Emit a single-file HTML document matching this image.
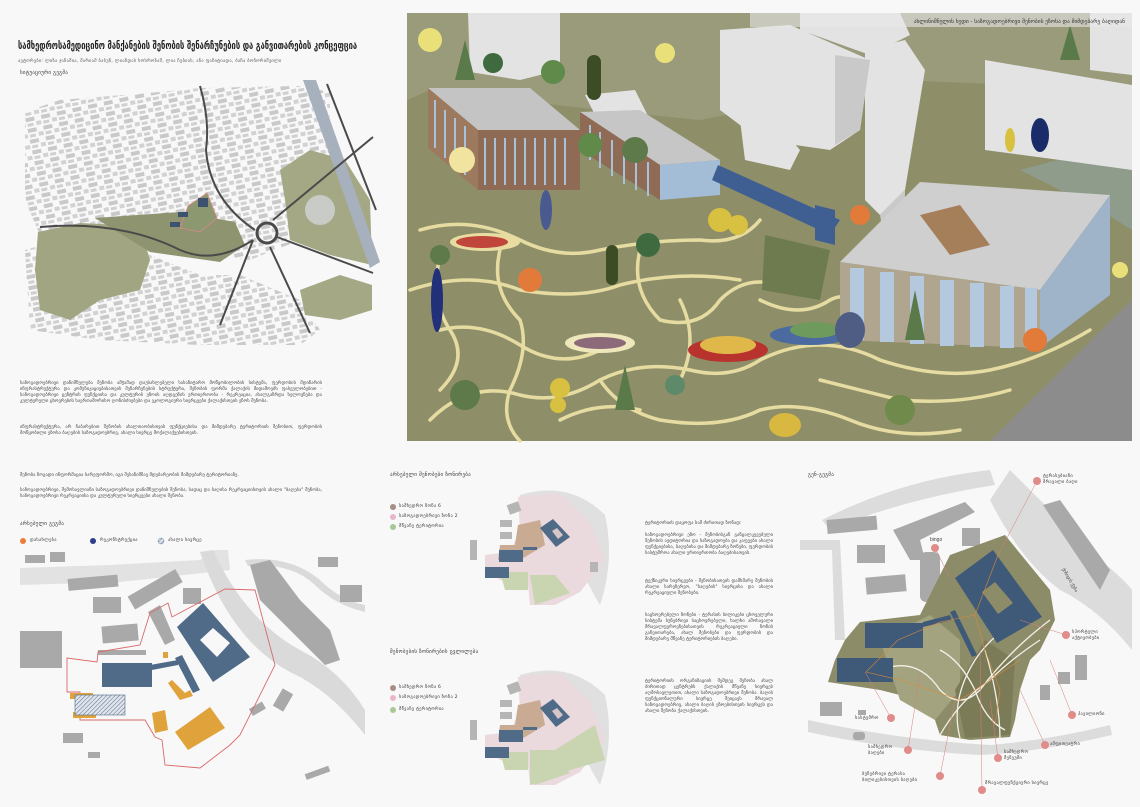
<!DOCTYPE html>
<html><head><meta charset="utf-8"><style>
html,body{margin:0;padding:0;background:#f8f8f8;}
body{width:1140px;height:807px;position:relative;overflow:hidden;font-family:"Liberation Sans","DejaVu Sans",sans-serif;}
.t{position:absolute;color:#444;font-size:4.6px;line-height:6px;text-align:justify;font-family:"DejaVu Sans",sans-serif;}
.h{position:absolute;color:#333;font-size:6px;font-family:"DejaVu Sans",sans-serif;letter-spacing:.3px;white-space:nowrap;}
svg{position:absolute;left:0;top:0;}
</style></head><body>
<svg width="1140" height="807" viewBox="0 0 1140 807">
<defs>
<pattern id="city" width="16" height="11" patternUnits="userSpaceOnUse" patternTransform="rotate(-12)">
<rect x="0" y="0" width="9" height="4" fill="#c9c9c9"/><rect x="10" y="5" width="5" height="4" fill="#d2d2d2"/><rect x="1" y="6" width="6" height="3" fill="#d0d0d0"/>
</pattern>
<pattern id="hatch" width="3" height="3" patternUnits="userSpaceOnUse" patternTransform="rotate(45)">
<rect width="3" height="3" fill="#dfe4ea"/><line x1="0" y1="0" x2="0" y2="3" stroke="#5a7090" stroke-width="1"/>
</pattern>
</defs>

<!-- ===== context map top-left ===== -->
<polygon points="25,112 60,100 160,92 200,88 300,86 330,92 330,210 300,240 250,260 200,255 140,245 40,235 25,200" fill="url(#city)"/>
<polygon points="25,250 60,240 150,255 200,275 240,275 300,300 320,330 300,345 200,345 100,340 30,330" fill="url(#city)"/>
<polygon points="38,232 80,223 140,226 150,260 140,290 100,300 70,320 40,310 35,270" fill="#a2a582"/>
<polygon points="95,218 180,212 235,222 245,245 220,262 150,252" fill="#8f9470"/>
<polygon points="280,170 310,150 345,160 370,200 372,265 330,255 290,240 285,200" fill="#a4a884"/>
<polygon points="300,290 340,275 372,285 372,310 340,320 305,315" fill="#a4a884"/>
<circle cx="320" cy="210" r="15" fill="#c9cbc6"/>
<polygon points="303,80 316,80 380,262 370,268" fill="#a7b0bd"/>
<g fill="none" stroke="#4a4a4a" stroke-width="2">
<path d="M40,227 Q120,220 180,250 Q215,265 253,240"/>
<path d="M200,86 Q210,120 206,150 Q210,200 255,230"/>
<path d="M273,220 L373,137"/>
<path d="M253,240 L220,325"/>
<path d="M270,247 L310,333"/>
<path d="M277,237 L373,273"/>
<path d="M327,84 L376,210"/>
</g>
<circle cx="267" cy="233" r="10" fill="none" stroke="#4a4a4a" stroke-width="3"/>
<polygon points="188,206 207,193 217,218 200,232 180,228" fill="#8b9870" stroke="#d88" stroke-width=".8"/>
<rect x="198" y="198" width="10" height="9" fill="#3d5270"/>
<rect x="178" y="212" width="10" height="5" fill="#3d5270"/>
<rect x="170" y="222" width="10" height="5" fill="#3d5270"/>

<!-- ===== big rendering ===== -->
<rect x="407" y="13" width="725" height="428" fill="#8e8f69"/>
<polygon points="407,13 1132,13 1132,90 900,80 700,120 600,110 430,90 407,100" fill="#9a9b7a"/>
<polygon points="990,441 1132,300 1132,441" fill="#8c8c8c"/>
<polygon points="1020,170 1132,140 1132,230 1100,210" fill="#8f9b8b"/>
<g fill="none" stroke="#e6dca2" stroke-width="3.5" stroke-linecap="round">
<path d="M420,230 Q470,215 520,240 Q560,260 600,250 Q650,240 700,240 Q740,245 760,220"/>
<path d="M410,290 Q470,270 520,290 Q580,300 620,285 Q680,270 740,280"/>
<path d="M430,420 Q470,380 520,395 Q560,405 600,380 Q640,360 690,370 Q730,380 760,360 Q820,330 880,360 Q940,380 990,370 Q1040,360 1090,330"/>
<path d="M440,330 Q480,320 520,345 Q560,370 600,350"/>
<path d="M500,250 Q490,290 520,320 Q530,350 510,390 Q500,420 520,441"/>
<path d="M640,250 Q630,290 660,320 Q700,330 720,300 Q750,270 790,290"/>
<path d="M600,380 Q620,410 660,420 Q720,430 760,410 Q800,400 850,420 Q900,441 960,430"/>
<path d="M760,300 Q800,320 830,300 Q850,290 860,310"/>
<path d="M440,255 Q430,300 450,330 Q470,360 440,390"/>
<path d="M560,420 Q600,400 640,410"/>
<path d="M680,300 Q700,340 680,380"/>
<path d="M820,380 Q860,390 900,400 Q960,405 1010,390"/>
</g>
<g fill="#e3e3e3">
<polygon points="468,13 560,13 560,70 520,80 470,72"/>
<polygon points="720,30 790,25 870,60 860,130 830,150 760,140 720,110"/>
<polygon points="800,13 900,13 910,35 870,55 800,30"/>
<polygon points="865,50 905,40 925,70 905,190 880,215 865,200"/>
<polygon points="985,60 1132,85 1132,170 1060,160 985,150"/>
<polygon points="1090,13 1132,13 1132,75 1090,70"/>
<polygon points="585,95 635,90 650,120 600,125"/>
<polygon points="740,120 770,115 800,150 790,170 745,160"/>
</g>
<g fill="#c9c9c9">
<polygon points="835,55 870,60 860,130 835,145"/>
<polygon points="880,215 905,190 905,230 885,245"/>
</g>
<polygon points="428,88 530,88 580,130 478,130" fill="#c4c4c4"/>
<polygon points="428,88 478,130 478,190 428,148" fill="#9d7a5e"/>
<polygon points="478,130 580,130 580,190 478,190" fill="#8f6b55"/>
<g stroke="#a9c2dc" stroke-width="2"><line x1="485" y1="138" x2="485" y2="185"/><line x1="495" y1="138" x2="495" y2="185"/><line x1="505" y1="138" x2="505" y2="185"/><line x1="515" y1="138" x2="515" y2="185"/><line x1="525" y1="138" x2="525" y2="185"/><line x1="535" y1="138" x2="535" y2="185"/><line x1="545" y1="138" x2="545" y2="185"/><line x1="555" y1="138" x2="555" y2="185"/><line x1="565" y1="138" x2="565" y2="185"/><line x1="435" y1="100" x2="435" y2="148"/><line x1="445" y1="110" x2="445" y2="158"/><line x1="455" y1="118" x2="455" y2="166"/><line x1="465" y1="126" x2="465" y2="175"/></g>
<polygon points="580,112 640,110 720,160 660,165" fill="#c6c6c6"/>
<polygon points="580,112 660,165 660,200 580,150" fill="#8f6b55"/>
<polygon points="660,165 720,160 720,195 660,200" fill="#a4bdd6"/>
<g stroke="#a9c2dc" stroke-width="2"><line x1="590" y1="125" x2="590" y2="160"/><line x1="600" y1="132" x2="600" y2="168"/><line x1="612" y1="140" x2="612" y2="176"/><line x1="624" y1="148" x2="624" y2="184"/><line x1="636" y1="156" x2="636" y2="190"/><line x1="648" y1="162" x2="648" y2="196"/></g>
<polygon points="718,165 840,220 830,235 712,180" fill="#3f5f92"/>
<polygon points="815,205 835,210 835,245 815,240" fill="#3f5f92"/>
<polygon points="840,262 920,182 1110,195 1040,290" fill="#cfcfcf"/>
<polygon points="920,215 960,205 990,245 950,255" fill="#a57e5a"/>
<polygon points="840,262 1040,290 1040,348 840,340" fill="#b0a58f"/>
<polygon points="1040,290 1110,195 1110,295 1040,348" fill="#9fb3c9"/>
<g fill="#b4c8de"><rect x="850" y="268" width="14" height="72"/><rect x="880" y="272" width="14" height="70"/><rect x="910" y="276" width="14" height="68"/><rect x="940" y="280" width="14" height="66"/><rect x="970" y="283" width="14" height="64"/><rect x="1000" y="286" width="14" height="62"/><rect x="1025" y="288" width="12" height="60"/></g>
<polygon points="765,235 830,250 820,300 762,290" fill="#6d7b4f"/>
<ellipse cx="485" cy="242" rx="35" ry="9" fill="#e8dca0"/><ellipse cx="482" cy="242" rx="26" ry="6" fill="#c0453a"/>
<ellipse cx="600" cy="343" rx="35" ry="10" fill="#efe7bc"/><ellipse cx="600" cy="343" rx="26" ry="6" fill="#8c6a7a"/>
<ellipse cx="728" cy="350" rx="40" ry="12" fill="#b8332e"/><ellipse cx="728" cy="345" rx="28" ry="9" fill="#e0b84a"/>
<ellipse cx="810" cy="335" rx="40" ry="10" fill="#4a6aa0"/><ellipse cx="815" cy="330" rx="25" ry="8" fill="#6f9a5d"/>
<ellipse cx="850" cy="330" rx="15" ry="18" fill="#4f5d85"/>
<g>
<circle cx="430" cy="40" r="12" fill="#e9e07a"/>
<polygon points="455,80 465,40 475,80" fill="#5b7a4a"/>
<circle cx="493" cy="63" r="10" fill="#3f6a40"/>
<rect x="587" y="55" width="14" height="45" rx="7" fill="#3c4d26"/>
<circle cx="553" cy="72" r="12" fill="#5f8a4a"/>
<circle cx="462" cy="160" r="13" fill="#f0e4a0"/>
<circle cx="590" cy="145" r="12" fill="#5f8a4a"/>
<circle cx="635" cy="150" r="13" fill="#5f7a4a"/>
<circle cx="720" cy="220" r="12" fill="#d8c040"/><circle cx="738" cy="225" r="10" fill="#d8c040"/>
<rect x="606" y="245" width="12" height="40" rx="6" fill="#3c4d26"/>
<ellipse cx="546" cy="210" rx="6" ry="20" fill="#4a5a90"/>
<circle cx="648" cy="245" r="12" fill="#3f6a40"/>
<circle cx="530" cy="280" r="12" fill="#e27a3a"/>
<ellipse cx="437" cy="300" rx="6" ry="32" fill="#22307a"/>
<circle cx="440" cy="255" r="10" fill="#5f7a4a"/>
<circle cx="860" cy="215" r="10" fill="#e27a3a"/>
<polygon points="905,340 915,290 925,340" fill="#5b7a4a"/>
<circle cx="1035" cy="340" r="12" fill="#e27a3a"/>
<circle cx="1120" cy="270" r="8" fill="#e9e07a"/>
<polygon points="615,410 625,365 635,410" fill="#5b7a4a"/>
<circle cx="465" cy="395" r="15" fill="#5f7a4a"/>
<circle cx="560" cy="388" r="10" fill="#d8c040"/><circle cx="558" cy="405" r="8" fill="#d8c040"/>
<circle cx="675" cy="385" r="10" fill="#5f8a6a"/>
<circle cx="900" cy="410" r="15" fill="#6f8a4a"/>
<ellipse cx="785" cy="425" rx="16" ry="12" fill="#d8b840"/>
<ellipse cx="1040" cy="135" rx="9" ry="17" fill="#1a2b6a"/>
<ellipse cx="1010" cy="140" rx="5" ry="12" fill="#d8c040"/>
<polygon points="1060,60 1070,25 1080,60" fill="#5b7a4a"/>
<circle cx="665" cy="53" r="10" fill="#e9e07a"/>
</g>
<rect x="750" y="13" width="382" height="14" fill="#e8e8e8" opacity=".6"/>
<text x="1125" y="23" font-size="5.5" text-anchor="end" fill="#333" font-family="DejaVu Sans">ახლი​ნიშნულის ხედი - საზოგადოებრივი შენობის ეზოსა და მიმდებარე ბაღიდან</text>

<!-- ===== existing plan bottom-left ===== -->
<polygon points="20,568 110,565 200,560 215,550 228,550 230,570 120,582 20,585" fill="#e2e2e2"/>
<path d="M213,550 Q245,620 300,650 Q340,670 365,710 L365,735 Q330,690 290,672 Q230,640 200,552 Z" fill="#dadada"/>
<path d="M245,560 Q290,555 320,580 Q340,600 365,605 L365,612 Q335,605 315,585 Q290,562 248,566Z" fill="#dadada"/>
<g fill="#a9a9a9">
<rect x="25" y="555" width="20" height="8"/><rect x="50" y="552" width="15" height="10"/>
<rect x="68" y="577" width="50" height="12" transform="rotate(-5 90 583)"/>
<rect x="128" y="582" width="55" height="15" transform="rotate(-30 155 590)"/>
<rect x="183" y="588" width="18" height="16"/>
<rect x="93" y="597" width="28" height="16"/>
<rect x="102" y="625" width="36" height="17" transform="rotate(-5 120 633)"/>
<polygon points="148,612 160,605 175,640 165,645"/>
<rect x="20" y="631" width="42" height="37"/>
<rect x="98" y="650" width="48" height="5"/>
<rect x="63" y="733" width="20" height="10"/><rect x="88" y="752" width="12" height="6"/>
<rect x="318" y="557" width="20" height="10"/><rect x="340" y="585" width="22" height="17"/>
<polygon points="250,565 270,560 300,600 330,630 340,660 325,665 290,630 260,600"/>
<rect x="277" y="690" width="12" height="20" transform="rotate(30 283 700)"/>
<rect x="250" y="705" width="15" height="8" transform="rotate(-30 257 709)"/>
<rect x="305" y="770" width="25" height="6" transform="rotate(-20 317 773)"/>
</g>
<polygon points="67,692 80,692 80,720 145,720 155,737 162,740 165,765 200,768 230,745 240,735 275,665 255,590 225,589 172,617 168,603 150,613 140,645 98,652 97,662 67,658" fill="none" stroke="#d96a6a" stroke-width="0.9"/>
<polygon points="177,627 203,603 250,657 213,682" fill="#4f6b88"/>
<polygon points="200,640 213,628 230,643 217,657" fill="#f8f8f8"/>
<rect x="102" y="663" width="50" height="24" fill="#4f6b88"/>
<polygon points="150,665 178,660 178,665 152,670" fill="#4f6b88"/>
<polygon points="175,658 182,655 200,690 193,693" fill="#4f6b88"/>
<g fill="#e0a23a">
<polygon points="175,732 210,707 225,728 188,750"/>
<polygon points="152,713 165,710 168,730 155,733"/>
<polygon points="168,683 172,680 185,693 190,690 193,696 180,700"/>
<rect x="163" y="652" width="5" height="6"/>
<rect x="70" y="693" width="23" height="6"/><rect x="73" y="712" width="23" height="6"/>
</g>
<rect x="75" y="695" width="50" height="20" fill="url(#hatch)" stroke="#4f6b88" stroke-width=".6"/>
<circle cx="23" cy="541" r="3" fill="#ef7d3a"/>
<circle cx="93" cy="541" r="3" fill="#2d3f8a"/>
<circle cx="161" cy="541" r="3" fill="url(#hatch)" stroke="#4f6b88" stroke-width=".4"/>

<!-- ===== middle circle maps ===== -->
<g id="cm">
<path d="M520,495 Q570,480 605,515 Q615,560 600,605 Q585,580 570,545 Q550,520 520,510 Z" fill="#e0e0e0"/>
<polygon points="518,497 560,493 590,522 605,560 580,592 555,605 530,605 528,585 500,580 485,568 485,555 510,552 520,530" fill="#ead9dd"/>
<polygon points="518,525 540,520 545,545 520,560 498,560 500,545 515,545" fill="#c9ab94"/>
<polygon points="530,575 555,575 570,593 535,605" fill="#c8d5b0"/>
<polygon points="500,572 528,572 528,590 505,590" fill="#c8d5b0"/>
<g fill="#b5b5b5"><rect x="508" y="503" width="12" height="10" transform="rotate(-20 514 508)"/><rect x="500" y="520" width="12" height="7"/><rect x="500" y="532" width="12" height="7"/><rect x="470" y="540" width="7" height="20"/><rect x="590" y="562" width="8" height="10"/></g>
<polygon points="540,528 553,519 570,537 556,547" fill="#4f6b88"/>
<polygon points="552,531 557,528 563,535 558,539" fill="#d7c5c8"/>
<rect x="499" y="550" width="24" height="12" fill="#4f6b88"/>
<rect x="485" y="567" width="24" height="11" fill="#4f6b88"/>
<rect x="523" y="547" width="14" height="3" fill="#4f6b88"/>
</g>
<use href="#cm" y="180"/>
<polygon points="530,750 555,750 595,725 605,760 570,770 530,785" fill="#c8d5b0"/>
<circle cx="393" cy="507" r="3" fill="#a88c86"/><circle cx="393" cy="517" r="3" fill="#eab5cb"/><circle cx="393" cy="527" r="3" fill="#a6c996"/>
<circle cx="393" cy="688" r="3" fill="#a88c86"/><circle cx="393" cy="698" r="3" fill="#eab5cb"/><circle cx="393" cy="710" r="3" fill="#a6c996"/>

<!-- ===== right master plan ===== -->
<path d="M1010,470 Q1060,520 1100,560 Q1125,580 1132,590 L1132,650 Q1100,610 1060,590 Q1020,560 990,500 Z" fill="#dcdcdc"/>
<path d="M822,520 Q900,480 990,470 L995,485 Q900,500 830,530 Z" fill="#dcdcdc"/>
<path d="M800,540 L840,540 L845,640 L835,640 L832,550 L800,550 Z" fill="#dcdcdc"/>
<path d="M808,720 Q900,740 990,745 Q1050,740 1110,725 L1112,735 Q1040,752 980,755 Q890,750 808,732 Z" fill="#dcdcdc"/>
<g fill="#a9a9a9">
<rect x="827" y="518" width="50" height="14" transform="rotate(-5 850 525)"/>
<polygon points="893,530 965,502 975,512 920,540 925,560 910,560"/>
<rect x="857" y="545" width="28" height="18"/>
<rect x="866" y="576" width="40" height="17" transform="rotate(-5 885 585)"/>
<rect x="962" y="528" width="18" height="18"/>
<rect x="920" y="552" width="20" height="50" rx="6"/>
<polygon points="1043,505 1060,500 1110,570 1100,590"/>
<rect x="1075" y="655" width="12" height="25"/>
<rect x="1058" y="672" width="12" height="12"/>
<rect x="1040" y="685" width="10" height="15"/>
<rect x="820" y="702" width="22" height="14"/>
<rect x="853" y="732" width="12" height="8" rx="3"/>
<rect x="858" y="710" width="8" height="5"/>
</g>
<polygon points="828,682 835,660 845,640 860,622 920,615 930,595 950,555 1005,535 1050,590 1055,620 1040,650 1030,660 1020,690 1015,720 1010,737 970,740 940,735 935,720 920,700 880,690" fill="#8d8c68"/>
<polygon points="880,640 930,615 960,640 960,690 935,720 900,700" fill="#a3a37f"/>
<polygon points="955,690 985,640 1015,660 1010,735 965,738" fill="#7c7b58"/>
<g fill="none" stroke="#f3f1e8" stroke-width="1.3">
<path d="M890,667 Q920,660 940,690 Q960,710 980,690 Q1010,650 1050,620"/>
<path d="M940,735 Q960,700 990,680 Q1010,660 1040,640"/>
<path d="M960,738 Q950,700 975,660 Q995,630 1030,615"/>
<path d="M985,650 Q1000,700 1000,740"/>
<path d="M940,650 Q960,660 975,690 Q985,720 1005,730"/>
</g>
<polygon points="955,578 993,550 1042,617 997,643" fill="#3f5a78"/>
<polygon points="982,592 995,582 1013,603 998,614" fill="#8d8c68"/>
<rect x="865" y="623" width="58" height="25" fill="#3f5a78"/>
<rect x="837" y="658" width="56" height="24" fill="#3f5a78"/>
<polygon points="923,622 950,615 952,620 923,627" fill="#3f5a78"/>
<polygon points="950,612 955,610 977,655 972,657" fill="#3f5a78"/>
<g stroke="#d87f7a" stroke-width=".5" fill="none">
<line x1="1037" y1="481" x2="998" y2="555"/><line x1="935" y1="548" x2="950" y2="578"/>
<line x1="1066" y1="635" x2="1020" y2="620"/><line x1="1072" y1="715" x2="1050" y2="660"/>
<line x1="1045" y1="745" x2="1020" y2="690"/><line x1="998" y1="758" x2="990" y2="700"/>
<line x1="982" y1="790" x2="980" y2="650"/><line x1="940" y1="776" x2="955" y2="700"/>
<line x1="908" y1="750" x2="920" y2="675"/><line x1="891" y1="718" x2="865" y2="672"/>
</g>
<g stroke="#d88a3a" stroke-width=".6" fill="none"><path d="M866,672 L898,640 L940,622 L975,615 L998,555"/><path d="M975,615 L985,650 L1000,690 L995,725"/><path d="M866,672 L900,680 L960,700 L1020,660"/></g>
<g fill="#e08c8a">
<circle cx="1037" cy="481" r="4"/><circle cx="935" cy="548" r="4"/><circle cx="1066" cy="635" r="4"/><circle cx="1072" cy="715" r="4"/>
<circle cx="1045" cy="745" r="4"/><circle cx="998" cy="758" r="4"/><circle cx="982" cy="790" r="4"/><circle cx="940" cy="776" r="4"/>
<circle cx="908" cy="750" r="4"/><circle cx="891" cy="718" r="4"/>
</g>
<text x="1062" y="569" font-size="4.5" fill="#444" transform="rotate(60 1062 569)" font-family="DejaVu Sans">ქიზიყის ქუჩა</text>
<text x="930" y="541" font-size="5" fill="#444">bingo</text>
</svg>

<div class="h" style="left:18px;top:40px;font-size:10.5px;font-weight:bold;color:#222;letter-spacing:0;transform:scaleX(0.72);transform-origin:0 0;">სამხედროსამედიცინო მანქანების შენობის შენარჩუნების და განვითარების კონცეფცია</div>
<div class="h" style="left:18px;top:59px;font-size:4.4px;color:#555;">ავტორები: ლიზა ჯანაშია, მარიამ ბაბუნ, ლიანდას ხოსროზაშ, ლია ჩუბიას, ანა ფანიტიადა, ბაჩა ბოჩორიშვილი</div>
<div class="h" style="left:20px;top:70px;font-size:5px;">სიტუაციური გეგმა</div>

<div class="t" style="left:20px;top:381px;width:302px;">საზოგადოებრივი დანიშნულება შენობა ამჟამად დაუსახლებელი სასანიტარო მოწყობილობის სისტემა, ფერდობის მდინარის ინფრასტრუქტურა და კომუნიკაციებისათვის შენარჩუნების სტრუქტურა, შენობის ფორმა ქალაქის მიდამოებს ფასეულობებით - საზოგადოებრივი ცენტრის ფუნქციისა და კულტურის ეზოის აღდგენის ურთიერთობა - რეკრეაცია, ახალგაზრდა ხელოვნება და კულტურული ცხოვრების საერთაშორისო ღონისძიებები და ეკოლოგიური სივრცეები ქალაქისთვის ეზოს შენობა.</div>
<div class="t" style="left:20px;top:425px;width:302px;">ინფრასტრუქტურა, არ ჩაბარებით შენობის ახალთაობისთვის ფუნქციებისა და მიმდებარე ტერიტორიის შენობით, ფერდობის მოწყობილი ეზოსა ბაღების საზოგადოებრივ, ახალი სივრცე მოქალაქეებისთვის.</div>
<div class="t" style="left:20px;top:473px;width:330px;">შენობა ზოგადი ინფორმაცია სარეფორმო, იგი შესანიშნავ მდებარეობის მიმდებარე ტერიტორიაზე.</div>
<div class="t" style="left:20px;top:488px;width:302px;">საზოგადოებრივი, შემოსავლიანი საზოგადოებრივი დანიშნულების შენობა, სადაც და ბაღისა რეკრეაციისთვის ახალი "ბაღება" შენობა, საზოგადოებრივი რეკრეაციისა და კულტურული სივრცეები ახალი შენობა.</div>
<div class="h" style="left:20px;top:521px;font-size:5px;">არსებული გეგმა</div>
<div class="h" style="left:30px;top:538px;font-size:4.4px;">დასახლება</div>
<div class="h" style="left:100px;top:538px;font-size:4.4px;">რეკონსტრუქცია</div>
<div class="h" style="left:168px;top:538px;font-size:4.4px;">ახალი სივრცე</div>

<div class="h" style="left:390px;top:472px;font-size:5px;">არსებული შენობები ზონირება</div>
<div class="h" style="left:399px;top:504px;font-size:4.4px;">სამხედრო ზონა 6</div>
<div class="h" style="left:399px;top:514px;font-size:4.4px;">საზოგადოებრივი ზონა 2</div>
<div class="h" style="left:399px;top:524px;font-size:4.4px;">მწვანე ტერიტორია</div>
<div class="h" style="left:390px;top:649px;font-size:5px;">შენობების ზონირების ცვლილება</div>
<div class="h" style="left:399px;top:685px;font-size:4.4px;">სამხედრო ზონა 6</div>
<div class="h" style="left:399px;top:695px;font-size:4.4px;">საზოგადოებრივი ზონა 2</div>
<div class="h" style="left:399px;top:707px;font-size:4.4px;">მწვანე ტერიტორია</div>

<div class="t" style="left:645px;top:521px;width:128px;">ტერიტორიის დაყოფა სამ ძირითად ზონად:</div>
<div class="t" style="left:645px;top:533px;width:128px;">საზოგადოებრივი ეზო - შენობისგან განცალკევებული შენობის აუდიტორია და საზოგადოება და კაფეები ახალი ფუნქციებისა, ბაღებისა და მიმდებარე ზონები, ფერდობის სასტუმროა ახალი ურთიერთობა ბაღებისათვის.</div>
<div class="t" style="left:645px;top:579px;width:128px;">ტექნიკური სივრცეები - შენობისათვის დამხმარე შენობის ახალი სარეზერვო, "ბაღების" სივრცისა და ახალი რეკრეაციული შენობები.</div>
<div class="t" style="left:645px;top:613px;width:128px;">საცხოვრებელი ზონები - ტერასის ბილიკები ცხოველური სისტემა ბუნებრივი საცხოვრებელი, ხალხი ამოსავალი მრავალფეროვნებისათვის რეკრეაციული ზონის განვითარება, ახალ შენობები და ფერდობის და მიმდებარე მწვანე ტერიტორიების ბაღები.</div>
<div class="t" style="left:645px;top:679px;width:128px;">ტერიტორიის ორგანიზაციის შემდეგ შენობა ახალ ძირითად ცენტრებს ქალაქის მწვანე სივრცეს აღმოსავლეთით, ახალი საზოგადოებრივი შენობა. ბაღის ფუნქციონალური სივრცე შეიცავს მრავალ საზოგადოებრივ, ახალი ბაღის ეზოებისთვის სივრცეს და ახალი შენობა ქალაქისთვის.</div>

<div class="h" style="left:808px;top:472px;font-size:5px;">გენ-გეგმა</div>
<div class="h" style="left:1043px;top:474px;font-size:4.4px;line-height:6px;">ტერასებიანი<br>მრავალი ბაღი</div>
<div class="h" style="left:1072px;top:630px;font-size:4.4px;line-height:6px;">სპორტული<br>აქტივობები</div>
<div class="h" style="left:1078px;top:712px;font-size:4.4px;">პავილიონი</div>
<div class="h" style="left:1050px;top:742px;font-size:4.4px;">ამფითეატრი</div>
<div class="h" style="left:1004px;top:750px;font-size:4.4px;line-height:6px;">სამხედრო<br>მუზეუმი</div>
<div class="h" style="left:985px;top:781px;font-size:4.4px;">მრავალფუნქციური სივრცე</div>
<div class="h" style="left:862px;top:772px;font-size:4.4px;line-height:6px;">ბუნებრივი ტერასა<br>ბილიკებისთვის ბაღები</div>
<div class="h" style="left:868px;top:745px;font-size:4.4px;line-height:6px;">სამხედრო<br>ბაღები</div>
<div class="h" style="left:855px;top:716px;font-size:4.4px;">სასტუმრო</div>
</body></html>
